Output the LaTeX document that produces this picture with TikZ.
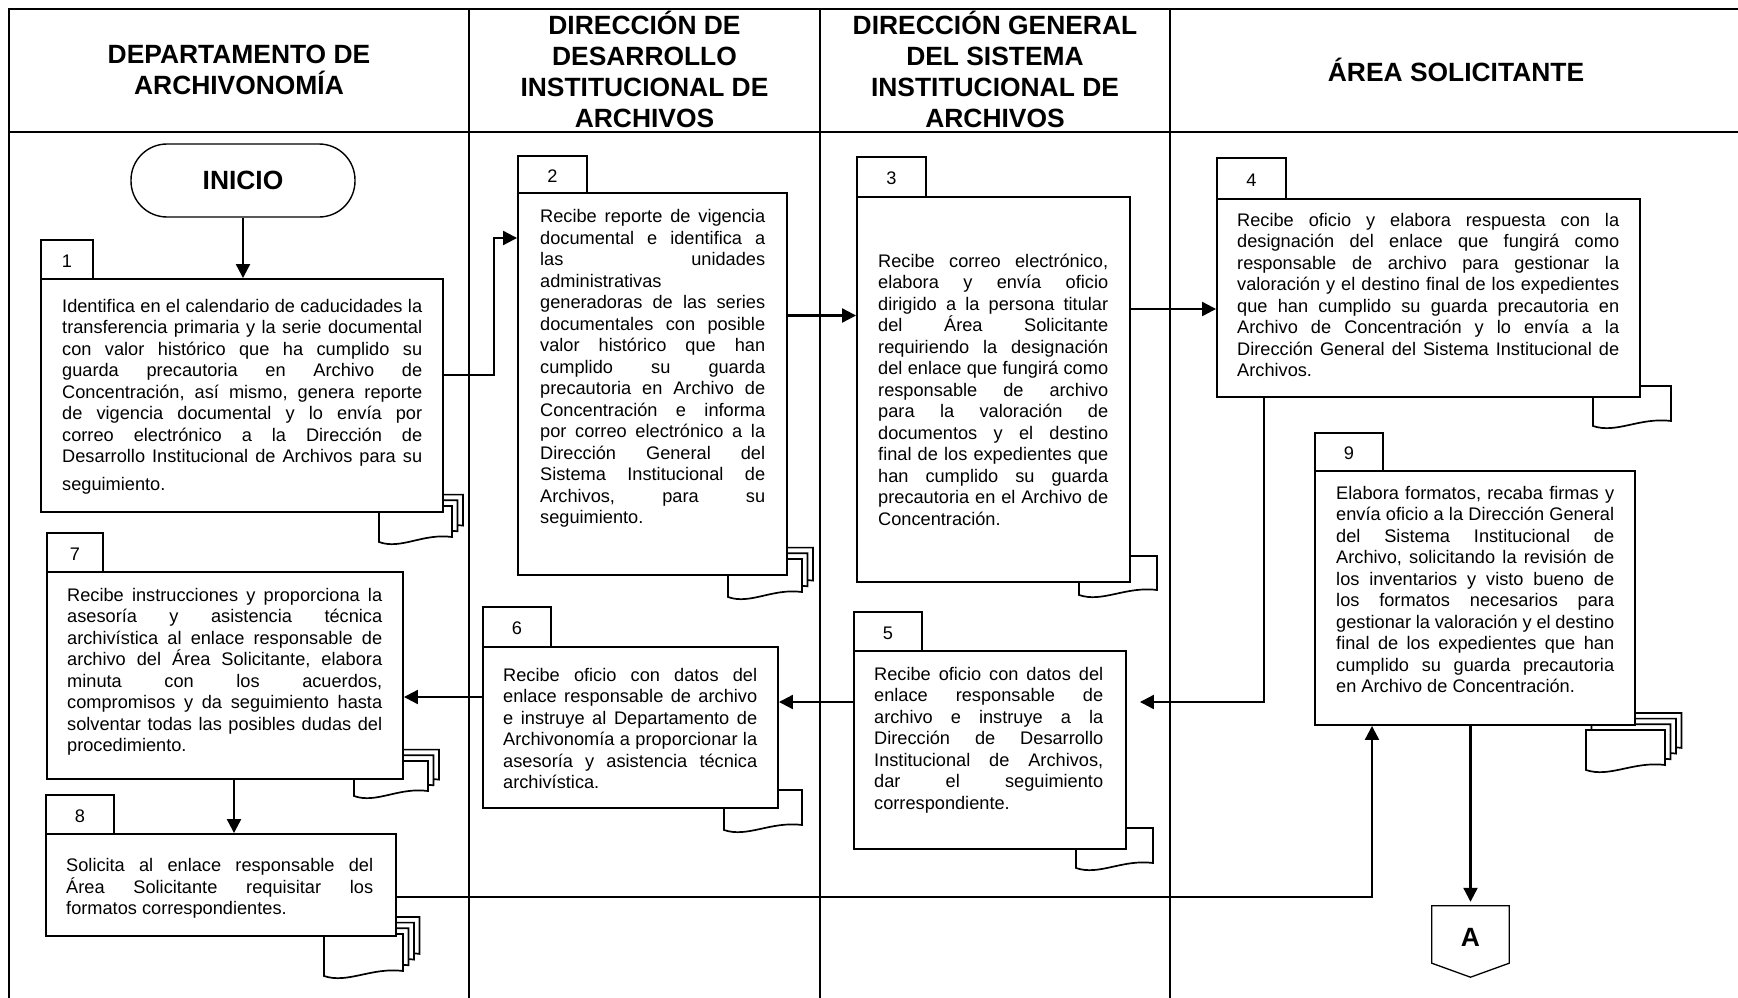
\documentclass[tikz,border=0pt]{standalone}
\usepackage{fontspec}
\setmainfont{Liberation Sans}
\usetikzlibrary{arrows.meta,fit}

% fonts
\newcommand\bodyfont{\fontsize{18.2}{21.5}\selectfont\frenchspacing}
\newcommand\headfont{\fontsize{26.4}{31}\selectfont\bfseries}

% one justified line, one closing (ragged) line, and a block of such lines
\newcommand\fullln[1]{\hbox to\hsize{#1}}
\newcommand\lastln[1]{\hbox to\hsize{#1\hfil}}
\newcommand\textblock[2]{\vtop{\hsize=#1pt\relax#2}}

% document symbol: top-left corner, width, height
\newcommand\docsheet[4]{%
  \draw[docline] (#1,#2) -- (#1+#3,#2) -- (#1+#3,#2+#4-5)
    .. controls (#1+0.6*#3,#2+#4-9) and (#1+0.3*#3,#2+#4+8) .. (#1,#2+#4) -- cycle;}
% stack of sheets: front corner, width, height, number of sheets behind
\newcommand\docstack[5]{%
  \foreach \k in {#5,...,0}{\docsheet{#1+5.5*\k}{#2-5.7*\k}{#3}{#4}}}

\tikzset{
  lane/.style={line width=2.3pt},
  box/.style={draw, line width=1.9pt, fill=white, inner sep=0pt},
  tabbox/.style={draw, line width=1.2pt, fill=white, inner sep=0pt},
  num/.style={inner sep=0pt, font=\bodyfont},
  txt/.style={inner sep=0pt, font=\bodyfont, anchor=base west},
  head/.style={font=\headfont, align=center, inner sep=0pt},
  conn/.style={line width=2.2pt, -{Triangle[length=14pt,width=14pt]}},
  docline/.style={line width=1.7pt, fill=white},
}

\begin{document}
\begin{tikzpicture}[x=1pt,y=-1pt]
\useasboundingbox (0,0) rectangle (1738,998);
\clip (0,0) rectangle (1738,998);
\fill[white] (0,0) rectangle (1738,998);

% swim lanes
\draw[lane] (9,9) rectangle (1742,1012);
\draw[lane] (9,132) -- (1742,132);
\foreach \xl in {469,820,1170} \draw[lane] (\xl,9) -- (\xl,1012);

\node[head] (h1) at (239,70) {DEPARTAMENTO DE\\ARCHIVONOMÍA};
\node[head] (h2) at (644.5,69) {DIRECCIÓN DE\\DESARROLLO\\INSTITUCIONAL DE\\ARCHIVOS};
\node[head] (h3) at (995,69) {DIRECCIÓN GENERAL\\DEL SISTEMA\\INSTITUCIONAL DE\\ARCHIVOS};
\node[head] (h4) at (1456,70) {ÁREA SOLICITANTE};

% documents behind the activity boxes
\docstack{379}{506}{73}{36}{2}
\docstack{728}{559}{74}{38}{2}
\docsheet{1079}{556}{78}{39}
\docsheet{1593}{386}{78}{40}
\docsheet{1076}{828}{77}{40}
\docsheet{724}{790}{78}{40}
\docstack{354}{761}{74}{35}{2}
\docstack{324}{934}{79}{42}{3}
\docstack{1586}{730}{79}{40}{3}

% step number tabs
\node[tabbox, fit={(41,240) (93,279)}] (t1) {};
\node[tabbox, fit={(518,156) (587,193)}] (t2) {};
\node[tabbox, fit={(857,157) (926,197)}] (t3) {};
\node[tabbox, fit={(1217,158) (1286,199)}] (t4) {};
\node[tabbox, fit={(854,612) (922,651)}] (t5) {};
\node[tabbox, fit={(483,607) (551,647)}] (t6) {};
\node[tabbox, fit={(47,533) (103,572)}] (t7) {};
\node[tabbox, fit={(46,795) (114,834)}] (t8) {};
\node[tabbox, fit={(1315,433) (1383,471)}] (t9) {};
\foreach \t/\n in {t1/1,t2/2,t3/3,t4/4,t5/5,t6/6,t7/7,t8/8,t9/9}
  \node[num] (\t n) at ([yshift=-1.5pt]\t.center) {\n};

% activity boxes
\node[box, fit={(41,279) (443,512)}] (b1) {};
\node[box, fit={(518,193) (787,575)}] (b2) {};
\node[box, fit={(857,197) (1130,582)}] (b3) {};
\node[box, fit={(1217,199) (1640,397)}] (b4) {};
\node[box, fit={(854,651) (1126,849)}] (b5) {};
\node[box, fit={(483,647) (778,808)}] (b6) {};
\node[box, fit={(47,572) (403,779)}] (b7) {};
\node[box, fit={(46,834) (396,936)}] (b8) {};
\node[box, fit={(1315,471) (1635,725)}] (b9) {};

\node[txt] (b1t) at (62,312) {\textblock{360}{%
\fullln{Identifica en el calendario de caducidades la}
\fullln{transferencia primaria y la serie documental}
\fullln{con valor histórico que ha cumplido su}
\fullln{guarda precautoria en Archivo de}
\fullln{Concentración, así mismo, genera reporte}
\fullln{de vigencia documental y lo envía por}
\fullln{correo electrónico a la Dirección de}
\fullln{Desarrollo Institucional de Archivos para su}
\kern6pt
\lastln{seguimiento.}}};

\node[txt] (b2t) at (540,222.5) {\textblock{225}{%
\fullln{Recibe reporte de vigencia}
\fullln{documental e identifica a}
\fullln{las unidades}
\lastln{administrativas}
\fullln{generadoras de las series}
\fullln{documentales con posible}
\fullln{valor histórico que han}
\fullln{cumplido su guarda}
\fullln{precautoria en Archivo de}
\fullln{Concentración e informa}
\fullln{por correo electrónico a la}
\fullln{Dirección General del}
\fullln{Sistema Institucional de}
\fullln{Archivos, para su}
\lastln{seguimiento.}}};

\node[txt] (b3t) at (878,267.3) {\textblock{230}{%
\fullln{Recibe correo electrónico,}
\fullln{elabora y envía oficio}
\fullln{dirigido a la persona titular}
\fullln{del Área Solicitante}
\fullln{requiriendo la designación}
\fullln{del enlace que fungirá como}
\fullln{responsable de archivo}
\fullln{para la valoración de}
\fullln{documentos y el destino}
\fullln{final de los expedientes que}
\fullln{han cumplido su guarda}
\fullln{precautoria en el Archivo de}
\lastln{Concentración.}}};

\node[txt] (b4t) at (1237,226) {\textblock{382}{%
\fullln{Recibe oficio y elabora respuesta con la}
\fullln{designación del enlace que fungirá como}
\fullln{responsable de archivo para gestionar la}
\fullln{valoración y el destino final de los expedientes}
\fullln{que han cumplido su guarda precautoria en}
\fullln{Archivo de Concentración y lo envía a la}
\fullln{Dirección General del Sistema Institucional de}
\lastln{Archivos.}}};

\node[txt] (b5t) at (874,680) {\textblock{229}{%
\fullln{Recibe oficio con datos del}
\fullln{enlace responsable de}
\fullln{archivo e instruye a la}
\fullln{Dirección de Desarrollo}
\fullln{Institucional de Archivos,}
\fullln{dar el seguimiento}
\lastln{correspondiente.}}};

\node[txt] (b6t) at (503,681) {\textblock{254}{%
\fullln{Recibe oficio con datos del}
\fullln{enlace responsable de archivo}
\fullln{e instruye al Departamento de}
\fullln{Archivonomía a proporcionar la}
\fullln{asesoría y asistencia técnica}
\lastln{archivística.}}};

\node[txt] (b7t) at (67,601) {\textblock{315}{%
\fullln{Recibe instrucciones y proporciona la}
\fullln{asesoría y asistencia técnica}
\fullln{archivística al enlace responsable de}
\fullln{archivo del Área Solicitante, elabora}
\fullln{minuta con los acuerdos,}
\fullln{compromisos y da seguimiento hasta}
\fullln{solventar todas las posibles dudas del}
\lastln{procedimiento.}}};

\node[txt] (b8t) at (66,871.5) {\textblock{307}{%
\fullln{Solicita al enlace responsable del}
\fullln{Área Solicitante requisitar los}
\lastln{formatos correspondientes.}}};

\node[txt] (b9t) at (1336,499) {\textblock{278}{%
\fullln{Elabora formatos, recaba firmas y}
\fullln{envía oficio a la Dirección General}
\fullln{del Sistema Institucional de}
\fullln{Archivo, solicitando la revisión de}
\fullln{los inventarios y visto bueno de}
\fullln{los formatos necesarios para}
\fullln{gestionar la valoración y el destino}
\fullln{final de los expedientes que han}
\fullln{cumplido su guarda precautoria}
\lastln{en Archivo de Concentración.}}};

% start terminator and off-page connector
\node[draw, line width=1.4pt, rounded corners=36pt, minimum width=224pt,
      minimum height=73pt, font=\headfont] (ini) at (243,180.5) {INICIO};
\node[inner sep=0pt, minimum width=77pt, minimum height=71pt] (A) at (1470.5,941.5) {};
\draw[line width=1.3pt, fill=white] (A.north west) -- (A.north east)
  -- ([yshift=14pt]A.south east) -- (A.south) -- ([yshift=14pt]A.south west) -- cycle;
\node[font=\headfont, inner sep=0pt] (Alabel) at (1470.5,937) {A};

% flow
\coordinate (c12) at (494,375);
\coordinate (c12b) at (494,238);
\coordinate (c23) at (820,315.5);
\coordinate (c34) at (1170,309);
\coordinate (c45) at (1263.6,702);
\coordinate (c56) at (820,702);
\coordinate (c67) at (469,697);
\coordinate (c78) at (234,800);
\coordinate (c89) at (1372,897);

\draw[conn] (ini.south) -- (ini.south |- b1.north);
\draw[conn] (b1.east |- c12) -- (c12) -- (c12b) -- (b2.west |- c12b);
\draw[conn] (b2.east |- c23) -- (b3.west |- c23);
\draw[conn] (b3.east |- c34) -- (b4.west |- c34);
\draw[conn, shorten >=13pt] (b4.south -| c45) -- (c45) -- (b5.east |- c45);
\draw[conn] (b5.west |- c56) -- (b6.east |- c56);
\draw[conn] (b6.west |- c67) -- (b7.east |- c67);
\draw[conn] (b7.south -| c78) -- (b8.north -| c78);
\draw[conn] (b8.east |- c89) -- (c89) -- (c89 |- b9.south);
\draw[conn, shorten >=4pt] (b9.south -| A.north) -- (A.north);
\end{tikzpicture}
\end{document}
